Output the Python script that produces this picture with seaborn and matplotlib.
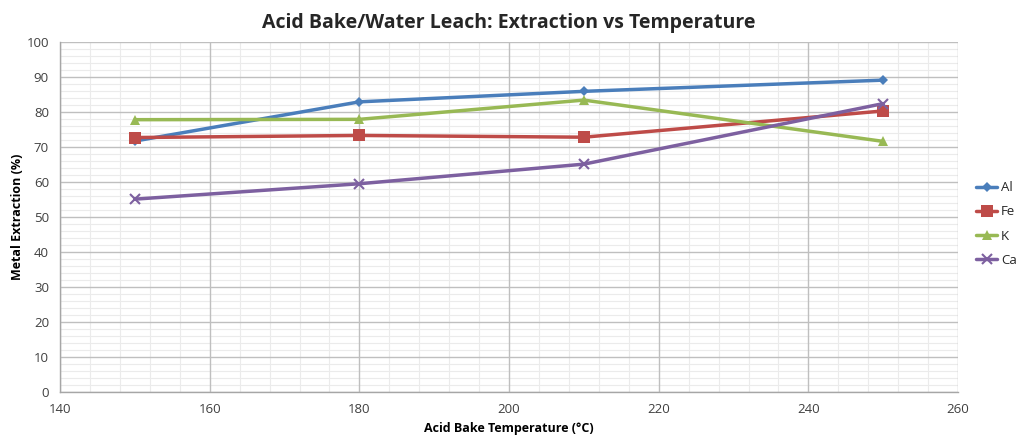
import numpy as np
import pandas as pd
import matplotlib
matplotlib.use("Agg")
import matplotlib.pyplot as plt
import seaborn as sns
from matplotlib.ticker import MultipleLocator

temperature = [150, 180, 210, 250]
al = [71.7, 82.9, 85.9, 89.1]
fe = [72.7, 73.3, 72.8, 80.3]
k = [77.8, 77.9, 83.4, 71.6]
ca = [55.1, 59.5, 65.1, 82.4]
series_names = ["Al", "Fe", "K", "Ca"]

df = pd.DataFrame({
    "Temperature": temperature * 4,
    "Extraction": al + fe + k + ca,
    "Metal": sum([[n] * len(temperature) for n in series_names], []),
})

sns.set_theme(style="white")
plt.rcParams['font.family'] = ['Open Sans', 'DejaVu Sans']

colors = {"Al": "#4A7EBB", "Fe": "#BE4B48", "K": "#98B954", "Ca": "#7D60A0"}
markers = {"Al": "D", "Fe": "s", "K": "^", "Ca": "x"}
msizes = {"Al": 5, "Fe": 8, "K": 7, "Ca": 7}

fig = plt.figure(figsize=(10.23, 4.36), dpi=100)
ax = fig.add_axes([0.0587, 0.1009, 0.8778, 0.8028])

for name in series_names:
    sub = df[df["Metal"] == name]
    sns.lineplot(data=sub, x="Temperature", y="Extraction", ax=ax,
                 color=colors[name], marker=markers[name], markersize=msizes[name],
                 markeredgewidth=1.5 if name == "Ca" else 0,
                 markeredgecolor=colors[name],
                 linewidth=2.5, label=name, zorder=3)

ax.set_xlim(140, 260)
ax.set_ylim(0, 100)
ax.xaxis.set_major_locator(MultipleLocator(20))
ax.yaxis.set_major_locator(MultipleLocator(10))

# minor grid drawn beneath the major grid
for xv in np.arange(140, 261, 4):
    if xv % 20:
        ax.axvline(xv, color="#EBEBEB", linewidth=0.8, zorder=0.1)
for yv in np.arange(0, 101, 2):
    if yv % 10:
        ax.axhline(yv, color="#EBEBEB", linewidth=0.8, zorder=0.1)

ax.grid(which="major", color="#BFBFBF", linewidth=1.0)
ax.set_axisbelow(True)
for s in ["top", "right"]:
    ax.spines[s].set_visible(False)
for s in ["left", "bottom"]:
    ax.spines[s].set_color("#A6A6A6")
    ax.spines[s].set_linewidth(1.0)
ax.tick_params(axis="both", which="both", length=0, labelsize=9.5, colors="#404040", pad=8)

ax.set_xlabel("Acid Bake Temperature (°C)", fontsize=9, fontweight="bold", color="#000000")
ax.set_ylabel("Metal Extraction (%)", fontsize=9, fontweight="bold", color="#000000")
ax.yaxis.set_label_coords(-0.040, 0.5)
ax.set_title("Acid Bake/Water Leach: Extraction vs Temperature", fontsize=14,
             fontweight="bold", pad=10)

leg = ax.legend(loc="center left", bbox_to_anchor=(1.02, 0.48), frameon=False,
                fontsize=9.5, handlelength=1.6, handletextpad=0.3,
                labelspacing=0.85, borderaxespad=0, borderpad=0)

fig.savefig("out.png", dpi=100)
